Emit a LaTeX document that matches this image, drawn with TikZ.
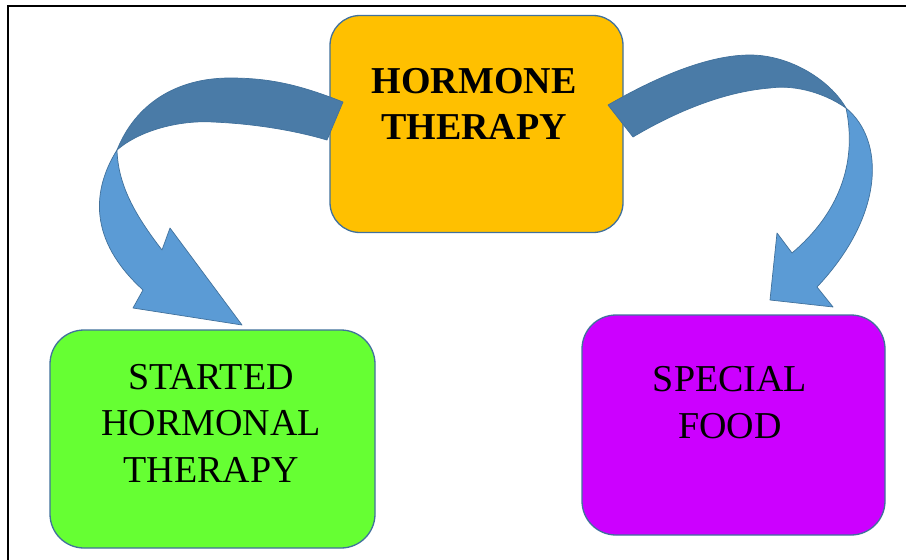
\documentclass[tikz,border=0pt]{standalone}
\usepackage{fontspec}
\setmainfont{Liberation Serif}
\definecolor{boxgold}{HTML}{FFC000}
\definecolor{boxgreen}{HTML}{66FF33}
\definecolor{boxpurple}{HTML}{CC00FF}
\definecolor{edgeblue}{HTML}{41719C}
\definecolor{darkband}{HTML}{4A7BA7}
\definecolor{lightband}{HTML}{5B9BD5}
\begin{document}
\begin{tikzpicture}[x=1pt,y=-1pt,
  box/.style={draw=edgeblue, line width=1.3pt, rounded corners=#1, inner sep=0pt},
  lbl/.style={align=center, inner sep=0pt, text=black},
  backband/.style={fill=darkband, draw=edgeblue, line width=0.7pt, line join=round},
  frontband/.style={fill=lightband, draw=edgeblue, line width=0.7pt, line join=round}]
\useasboundingbox (0,0) rectangle (906,560);
\fill[white] (0,0) rectangle (906,560);
% frame
\draw[line width=1.3pt] (8,560) -- (8,6) -- (906,6);
% boxes
\node[box=30pt, fill=boxgold, minimum width=293pt, minimum height=217pt] (hormone) at (476.5,124) {};
\node[box=34pt, fill=boxgreen, minimum width=325pt, minimum height=218pt] (started) at (212.5,439) {};
\node[box=34pt, fill=boxpurple, minimum width=303pt, minimum height=220pt] (special) at (733.5,425) {};
% labels
\node[lbl, font=\fontsize{38}{46}\selectfont\bfseries] (hormonetxt) at (474,103.5) {HORMONE\\THERAPY};
\node[lbl, font=\fontsize{38}{46.5}\selectfont] (startedtxt) at (211,423) {STARTED\\HORMONAL\\THERAPY};
\node[lbl, font=\fontsize{38}{46.5}\selectfont] (specialtxt) at (730,402.5) {SPECIAL\\FOOD};
% left curved arrow (from HORMONE THERAPY to STARTED HORMONAL THERAPY)
\path[backband] (343,102) .. controls (300,85) and (270,78) .. (230,78)
  .. controls (175,78) and (135,105) .. (117,150)
  .. controls (140,130) and (180,120) .. (213,122)
  .. controls (260,124) and (300,132) .. (327,140) -- cycle;
\path[frontband] (117,150) .. controls (92,190) and (88,240) .. (143,290)
  -- (133,308) -- (242,325) -- (170,228) -- (162,250)
  .. controls (135,215) and (118,185) .. (117,150) -- cycle;
% right curved arrow (from HORMONE THERAPY to SPECIAL FOOD)
\path[backband] (608,105) .. controls (660,75) and (710,55) .. (750,55)
  .. controls (790,55) and (830,80) .. (846,108)
  .. controls (820,90) and (790,85) .. (770,88)
  .. controls (720,92) and (670,115) .. (633,137) -- cycle;
\path[frontband] (846,108) .. controls (885,140) and (885,215) .. (817,287)
  -- (833,307) -- (770,300) -- (777,233) -- (792,253)
  .. controls (837,215) and (858,165) .. (846,108) -- cycle;
\end{tikzpicture}
\end{document}
